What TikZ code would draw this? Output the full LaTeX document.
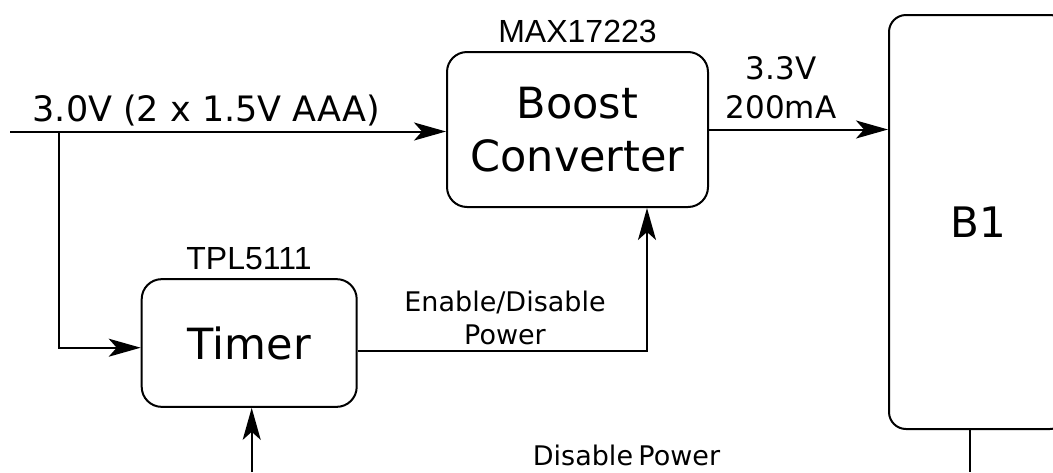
\documentclass[tikz,border=0pt]{standalone}
\usepackage{fontspec}
\setmainfont{DejaVu Sans}
\newfontfamily\libsans{Liberation Sans}
\usetikzlibrary{arrows.meta}
\tikzset{
  wire/.style={line width=2pt, draw=black},
  arr/.style={wire, -{Stealth[length=32pt, width=18pt, inset=8pt]}},
  blockbox/.style={draw=black, line width=2pt, rounded corners=20pt, inner sep=0pt, align=center},
  lbl/.style={inner sep=0pt, align=center}
}
\begin{document}
\begin{tikzpicture}[x=1pt, y=-1pt]
\useasboundingbox (0,0) rectangle (1053,472);
\clip (0,0) rectangle (1053,472);
% blocks
\node[blockbox, minimum width=261pt, minimum height=155pt,
      font=\fontsize{43}{53}\selectfont] (boost) at (577.5,129.5) {Boost\\Converter};
\node[blockbox, minimum width=215pt, minimum height=127.7pt,
      font=\fontsize{43}{53}\selectfont] (timer) at (249.2,343) {Timer};
\node[blockbox, rounded corners=17pt, minimum width=178pt, minimum height=414pt,
      font=\fontsize{42}{50}\selectfont] (b1) at (978,222) {B1};
% labels
\node[lbl, anchor=base, font=\libsans\fontsize{32}{38}\selectfont] (maxl) at (577.5,42) {MAX17223};
\node[lbl, anchor=base, font=\libsans\fontsize{32}{38}\selectfont] (tpll) at (249,269.5) {TPL5111};
\node[lbl, anchor=base, font=\fontsize{35}{42}\selectfont] (inl) at (206.5,121.7) {3.0V (2 x 1.5V AAA)};
\node[lbl, font=\fontsize{31}{39}\selectfont] (outl) at (781,88.2) {3.3V\\200mA};
\node[lbl, font=\fontsize{27}{33.3}\selectfont] (enl) at (505,318.1) {Enable/Disable\\Power};
\node[lbl, anchor=base, font=\fontsize{27}{33}\selectfont] (disl) at (626.5,465) {Disable\hspace{-0.12em} Power};
% connectors
\coordinate (in) at (10,131.5);
\coordinate (br) at (59.3,131.5);
\coordinate (tb) at (251.7,472);
\coordinate (bb) at (970,472);
\draw[arr] (in) -- (in -| boost.west);
\draw[arr] (br) |- ([yshift=-4.7pt]timer.west);
\draw[arr] ([yshift=-8pt]timer.east) -| ([xshift=69.5pt]boost.south);
\draw[arr] (boost.east) -- (boost.east -| b1.west);
\draw[arr] (tb) -- (tb |- timer.south);
\draw[wire] (bb |- b1.south) -- (bb);
\end{tikzpicture}
\end{document}
